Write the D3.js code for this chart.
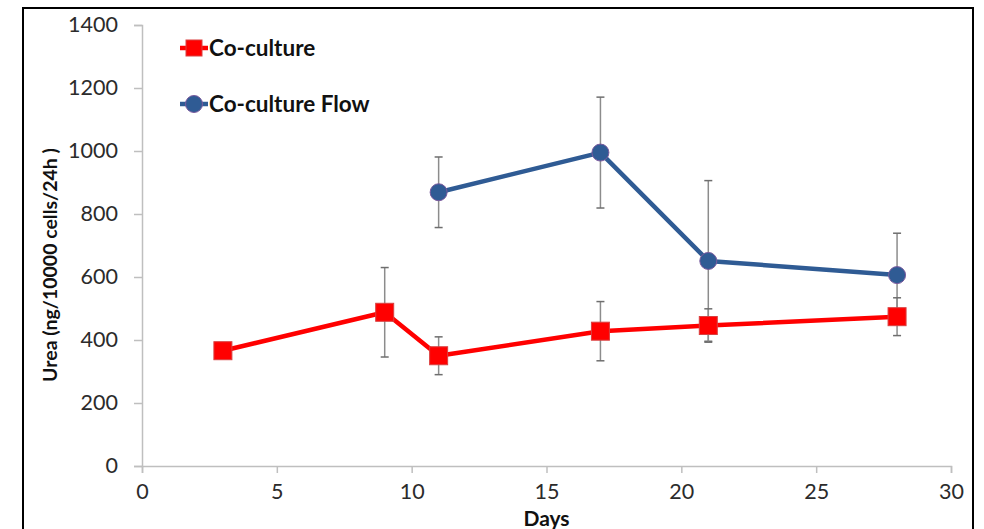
<!DOCTYPE html>
<html>
<head>
<meta charset="utf-8">
<script src="https://cdn.jsdelivr.net/npm/d3@7"></script>
<style>
  html, body { margin: 0; padding: 0; background: #fff; }
  svg { display: block; }
  text { font-family: Lato, "Open Sans", sans-serif; }
</style>
</head>
<body>
<script>
// Urea secretion over time, static vs flow co-culture (mean ± SD)
const coDays = [3, 9, 11, 17, 21, 28];
const coMean = [366, 488, 350, 428, 446, 474];
const coSD   = [0, 142, 60, 94, 53, 60];

const flowDays = [11, 17, 21, 28];
const flowMean = [869, 995, 651, 606];
const flowSD   = [112, 176, 255, 133];

const xTicks = [0, 5, 10, 15, 20, 25, 30];
const yTicks = [0, 200, 400, 600, 800, 1000, 1200, 1400];

const seriesNames = ["Co-culture", "Co-culture Flow"];

const W = 984, H = 529;
const m = { left: 142, right: 33, top: 25, bottom: 63 };

const svg = d3.select("body").append("svg").attr("width", W).attr("height", H);

// frame around the figure
svg.append("rect")
  .attr("x", 23).attr("y", 8).attr("width", 950).attr("height", 540)
  .attr("fill", "none").attr("stroke", "#000").attr("stroke-width", 2);

const x = d3.scaleLinear().domain([0, 30]).range([m.left, W - m.right]);
const y = d3.scaleLinear().domain([0, 1400]).range([H - m.bottom, m.top]);

const axisColor = "#bfbfbf";
const tickText = "#2b2b2b";

// y axis
const gy = svg.append("g").attr("transform", `translate(${m.left},0)`)
  .call(d3.axisLeft(y).tickValues(yTicks).tickSize(8).tickPadding(16).tickFormat(d3.format("d")));
gy.select(".domain").attr("stroke", axisColor).attr("stroke-width", 1.5);
gy.selectAll(".tick line").attr("stroke", axisColor).attr("stroke-width", 1.5);
gy.selectAll(".tick text").attr("fill", tickText).attr("font-size", 21.5).attr("font-family", "Lato, sans-serif");

// x axis
const gx = svg.append("g").attr("transform", `translate(0,${y(0)})`)
  .call(d3.axisBottom(x).tickValues(xTicks).tickSize(7).tickPadding(11).tickFormat(d3.format("d")));
gx.select(".domain").attr("stroke", axisColor).attr("stroke-width", 1.5);
gx.selectAll(".tick line").attr("stroke", axisColor).attr("stroke-width", 1.5);
gx.selectAll(".tick text").attr("fill", tickText).attr("font-size", 21.5).attr("font-family", "Lato, sans-serif");

// axis titles
svg.append("text")
  .attr("x", x(15)).attr("y", 526)
  .attr("text-anchor", "middle").attr("font-weight", "bold").attr("font-size", 21)
  .attr("fill", "#111").text("Days");

svg.append("text")
  .attr("transform", `translate(57,${265}) rotate(-90)`)
  .attr("text-anchor", "middle").attr("font-weight", "bold").attr("font-size", 19.5)
  .attr("fill", "#111").text("Urea (ng/10000 cells/24h )");

const red = "#ff0000";
const blue = "#2f5b94";

function errorBars(days, mean, sd) {
  const g = svg.append("g");
  days.forEach((d, i) => {
    if (!sd[i]) return;
    const cx = x(d), top = y(mean[i] + sd[i]), bot = y(mean[i] - sd[i]);
    g.append("line").attr("x1", cx).attr("x2", cx).attr("y1", top).attr("y2", bot)
      .attr("stroke", "#8c8c8c").attr("stroke-width", 1.5);
    [top, bot].forEach(v => g.append("line")
      .attr("x1", cx - 4).attr("x2", cx + 4).attr("y1", v).attr("y2", v)
      .attr("stroke", "#6e6e6e").attr("stroke-width", 1.5));
  });
}

errorBars(flowDays, flowMean, flowSD);
errorBars(coDays, coMean, coSD);

const line = d3.line().x(d => x(d[0])).y(d => y(d[1]));

// flow series
const flowPts = flowDays.map((d, i) => [d, flowMean[i]]);
svg.append("path").datum(flowPts).attr("d", line)
  .attr("fill", "none").attr("stroke", blue).attr("stroke-width", 4.5).attr("stroke-linejoin", "round");
svg.append("g").selectAll("circle").data(flowPts).join("circle")
  .attr("cx", d => x(d[0])).attr("cy", d => y(d[1])).attr("r", 8.5)
  .attr("fill", blue).attr("stroke", "#7a5a9e").attr("stroke-width", 1);

// static co-culture series
const coPts = coDays.map((d, i) => [d, coMean[i]]);
svg.append("path").datum(coPts).attr("d", line)
  .attr("fill", "none").attr("stroke", red).attr("stroke-width", 4.5).attr("stroke-linejoin", "round");
const sq = 18;
svg.append("g").selectAll("rect").data(coPts).join("rect")
  .attr("x", d => x(d[0]) - sq / 2).attr("y", d => y(d[1]) - sq / 2)
  .attr("width", sq).attr("height", sq)
  .attr("fill", red).attr("stroke", "#d94040").attr("stroke-width", 1);

// legend
const legend = svg.append("g");
const legendRows = [
  { name: seriesNames[0], color: red, shape: "square", y: 48 },
  { name: seriesNames[1], color: blue, shape: "circle", y: 104 }
];
legendRows.forEach(r => {
  legend.append("line").attr("x1", 180).attr("x2", 208).attr("y1", r.y).attr("y2", r.y)
    .attr("stroke", r.color).attr("stroke-width", 4.5);
  if (r.shape === "square") {
    legend.append("rect").attr("x", 186).attr("y", r.y - 8).attr("width", 16).attr("height", 16)
      .attr("fill", r.color).attr("stroke", "#d94040").attr("stroke-width", 1);
  } else {
    legend.append("circle").attr("cx", 194).attr("cy", r.y).attr("r", 8.5)
      .attr("fill", r.color).attr("stroke", "#7a5a9e").attr("stroke-width", 1);
  }
  legend.append("text").attr("x", 209).attr("y", r.y + 8)
    .attr("font-weight", "bold").attr("font-size", 22.5).attr("fill", "#111").text(r.name);
});
</script>
</body>
</html>
